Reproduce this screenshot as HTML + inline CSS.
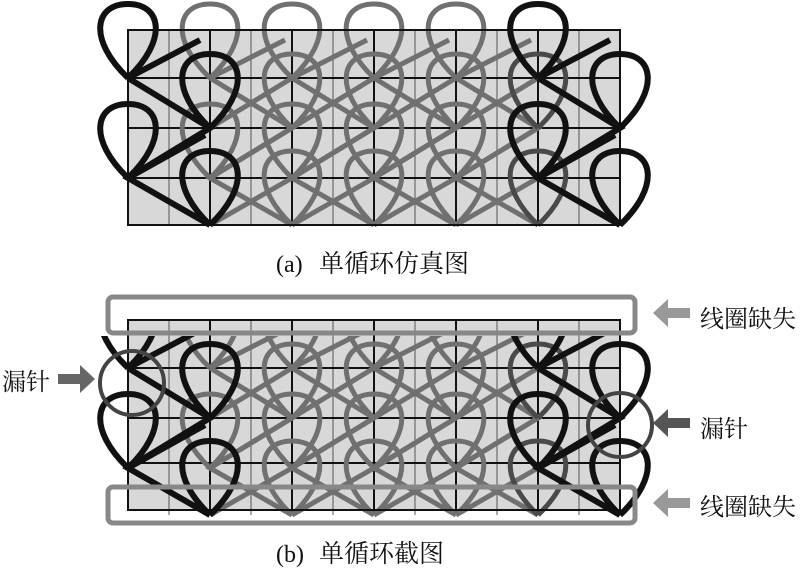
<!DOCTYPE html>
<html><head><meta charset="utf-8"><style>
html,body{margin:0;padding:0;background:#fff;}
svg{display:block}
text{font-family:"Liberation Serif","Noto Serif CJK SC",serif;font-size:24px;fill:#111}
</style></head><body>
<svg width="800" height="576" viewBox="0 0 800 576" xmlns="http://www.w3.org/2000/svg">
<defs>
<path id="L" d="M0,0 C-40,-38 -34,-74 0,-74 C34,-74 40,-38 0,0" fill="none"/>
<g id="pat">
 <g stroke="#707070" stroke-width="5" fill="none">
  <path d="M210,78 L292,128 L210,178 L292,225 M292,78 L374,128 L292,178 L374,225 M374,78 L456,128 L374,178 L456,225 M456,78 L538,128 L456,178 L538,225"/>
  <path d="M210,128 L292,78 M210,225 L292,178 M292,128 L374,78 M292,225 L374,178 M374,128 L456,78 M374,225 L456,178 M456,128 L538,78 M456,225 L538,178"/>
  <path d="M210,78 L285,40 M292,78 L367,40 M374,78 L449,40 M456,78 L531,40 M210,178 L292,128 M292,178 L374,128 M374,178 L456,128 M456,178 L538,128"/>
  <use href="#L" x="210" y="78"/><use href="#L" x="210" y="178"/>
  <use href="#L" x="292" y="78"/><use href="#L" x="292" y="128"/><use href="#L" x="292" y="178"/><use href="#L" x="292" y="225"/>
  <use href="#L" x="374" y="78"/><use href="#L" x="374" y="128"/><use href="#L" x="374" y="178"/><use href="#L" x="374" y="225"/>
  <use href="#L" x="456" y="78"/><use href="#L" x="456" y="128"/><use href="#L" x="456" y="178"/><use href="#L" x="456" y="225"/>
 </g>
 <g stroke="#4a4a4a" stroke-width="5" fill="none">
  <use href="#L" x="538" y="128"/><use href="#L" x="538" y="225"/>
 </g>
 <g stroke="#111" stroke-width="6" fill="none">
  <path d="M128,78 L210,128 L128,178 L210,225 M128,78 L200,40 M128,178 L205,135"/>
  <path d="M538,78 L620,128 L538,178 L620,225 M538,78 L610,40 M538,178 L615,135"/>
  <use href="#L" x="128" y="78"/><use href="#L" x="128" y="178"/>
  <use href="#L" x="210" y="128"/><use href="#L" x="210" y="225"/>
  <use href="#L" x="538" y="78"/><use href="#L" x="538" y="178"/>
  <use href="#L" x="620" y="128"/><use href="#L" x="620" y="225"/>
 </g>
</g>
<g id="grid" fill="none">
 <g stroke-width="1" stroke="#555"><path d="M169,0v195M251,0v195M333,0v195M415,0v195M497,0v195M579,0v195"/></g>
 <g stroke-width="2" stroke="#111"><path d="M210,0v195M292,0v195M374,0v195M456,0v195M538,0v195"/></g>
</g>
<clipPath id="cb"><rect x="0" y="336" width="800" height="240"/></clipPath>
</defs>

<rect x="128" y="30" width="492" height="195" fill="#d8d8d8"/>
<use href="#grid" y="30"/>
<path d="M128,78H620M128,128H620M128,178H620" stroke="#111" stroke-width="2"/>
<use href="#pat"/>
<rect x="128" y="30" width="492" height="195" fill="none" stroke="#111" stroke-width="2"/>
<text x="276" y="272">(a)</text><text x="319" y="272" style="font-size:25px">单循环仿真图</text>

<rect x="128" y="320" width="492" height="190" fill="#d8d8d8"/>
<use href="#grid" y="320"/>
<path d="M128,368H620M128,418H620M128,463H620" stroke="#111" stroke-width="2"/>
<g clip-path="url(#cb)"><use href="#pat" y="290"/></g>
<rect x="128" y="320" width="492" height="190" fill="none" stroke="#111" stroke-width="2"/>
<rect x="108" y="297" width="527" height="36" rx="5" fill="none" stroke="#888" stroke-width="5"/>
<rect x="108" y="487" width="527" height="36" rx="5" fill="none" stroke="#888" stroke-width="5"/>
<circle cx="132" cy="383" r="32" fill="none" stroke="#444" stroke-width="4"/>
<circle cx="620" cy="425" r="32" fill="none" stroke="#444" stroke-width="4"/>
<path d="M58,374h22v-9l15,14l-15,14v-9h-22z" fill="#666"/>
<path d="M690,308h-22v-9l-15,14l15,14v-9h22z" fill="#999"/>
<path d="M690,418h-22v-9l-15,14l15,14v-9h22z" fill="#555"/>
<path d="M690,498h-22v-9l-15,14l15,14v-9h22z" fill="#999"/>
<text x="2" y="390">漏针</text>
<text x="700" y="327">线圈缺失</text>
<text x="700" y="437">漏针</text>
<text x="700" y="515">线圈缺失</text>
<text x="276" y="562">(b)</text><text x="319" y="562" style="font-size:25px">单循环截图</text>
</svg>
</body></html>
